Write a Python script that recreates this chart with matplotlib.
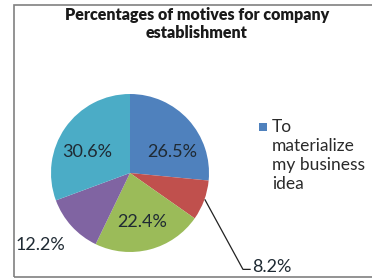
import matplotlib.pyplot as plt
import matplotlib.patches as mpatches

# data
shares = [26.5, 8.2, 22.4, 12.2, 30.6]
share_labels = ['26.5%', '8.2%', '22.4%', '12.2%', '30.6%']
legend_text = 'To\nmaterialize\nmy business\nidea'
colors = ['#4F81BD', '#C0504D', '#9BBB59', '#8064A2', '#4BACC6']

plt.rcParams['font.family'] = ['Lato', 'DejaVu Sans']

fig = plt.figure(figsize=(3.72, 2.8), dpi=100)

# chart frame (right side runs off the image)
frame = mpatches.Rectangle((14 / 372, 3 / 280), 1.2, 272 / 280,
                           transform=fig.transFigure, fill=False,
                           edgecolor='#808080', linewidth=1.2)
fig.patches.append(frame)

fig.text(197 / 372, 1 - 24 / 280,
         'Percentages of motives for company\nestablishment',
         ha='center', va='center', fontsize=11.5, fontweight='heavy',
         color='#1a1a1a', linespacing=1.2)

# pie, centre at (130, 173) px, radius ~79 px
ax = fig.add_axes([(130 - 79) / 372, (280 - 173 - 79) / 280, 158 / 372, 158 / 280])
wedges, _ = ax.pie(shares, colors=colors, startangle=90, counterclock=False,
                   radius=1.0, wedgeprops=dict(linewidth=0))
ax.set_xlim(-1, 1)
ax.set_ylim(-1, 1)
ax.set_aspect('auto')
ax.axis('off')

# label positions relative to the pie (radius units)
label_pos = [(0.54, 0.27), (1.80, -1.19), (0.16, -0.62), (-1.13, -0.91), (-0.54, 0.27)]
for lab, (x, y) in zip(share_labels, label_pos):
    ax.text(x, y, lab, ha='center', va='center', fontsize=13,
            color='#1f2a33', clip_on=False)

# leader line for the small red slice
ax.plot([0.95, 1.43, 1.52], [-0.34, -1.22, -1.22], color='#222222',
        linewidth=0.9, clip_on=False)

# legend (only first category shown)
fig.patches.append(mpatches.Rectangle((259 / 372, 1 - 131 / 280), 8 / 372, 8 / 280,
                                      transform=fig.transFigure,
                                      facecolor=colors[0], edgecolor='none'))
fig.text(272 / 372, 1 - 119 / 280, legend_text, ha='left', va='top',
         fontsize=12.5, color='#2a2a2a', linespacing=1.22)

fig.savefig('out.png', dpi=100)
